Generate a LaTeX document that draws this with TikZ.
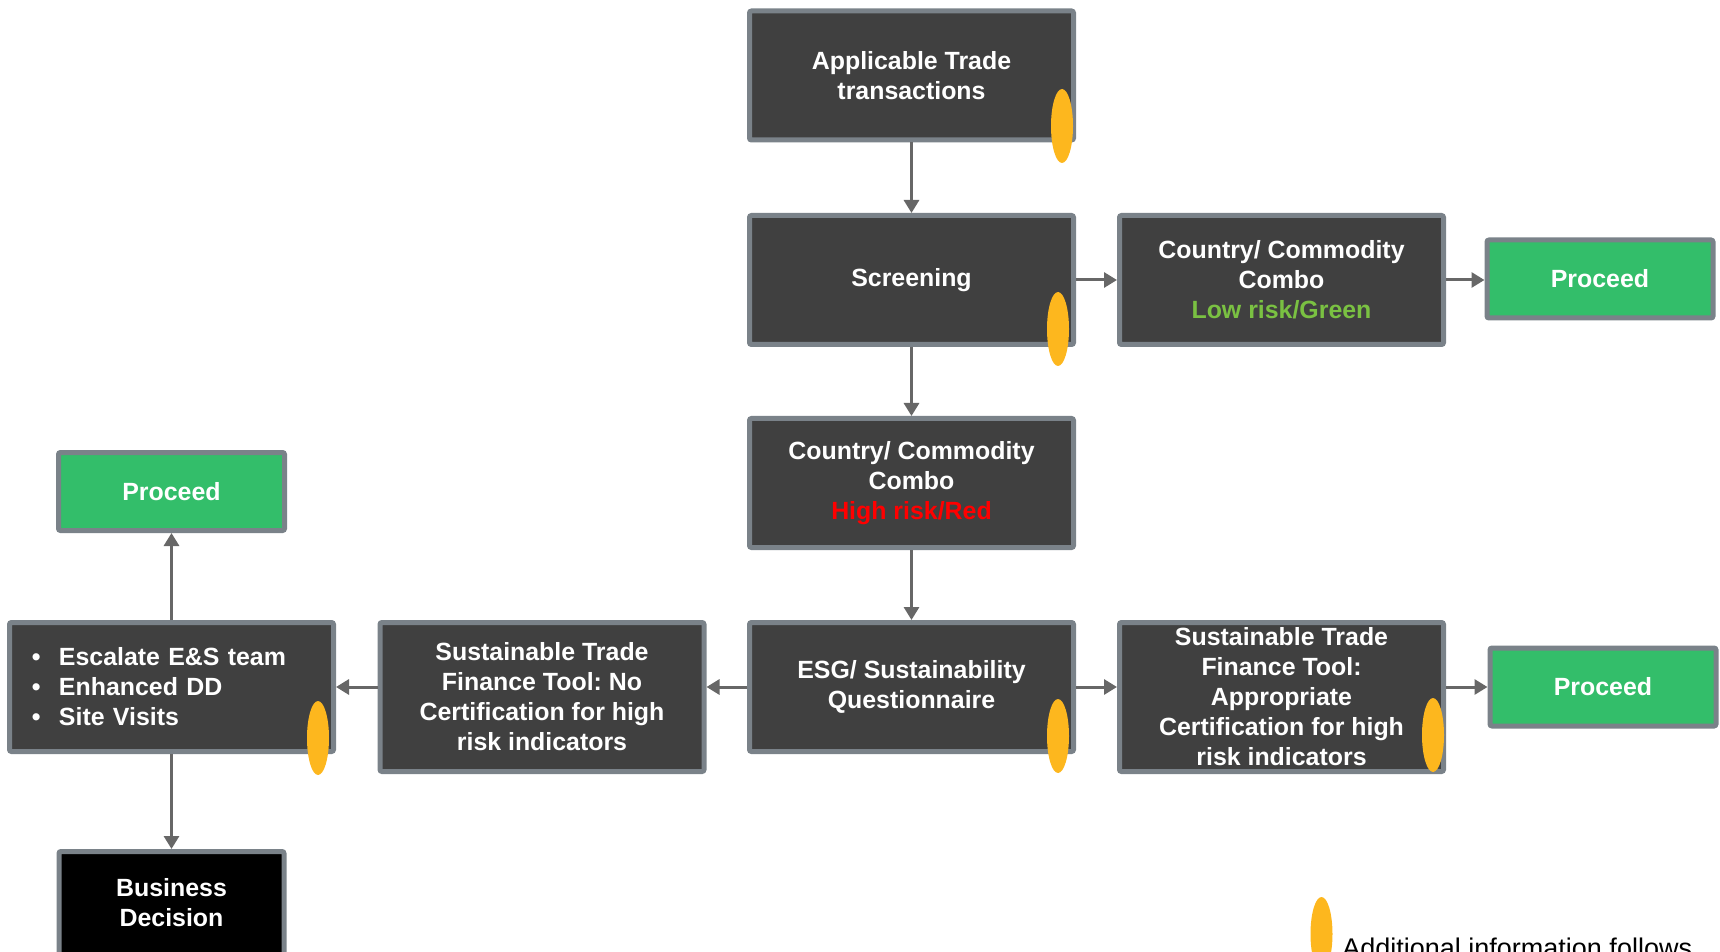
\documentclass[tikz,border=0pt]{standalone}
\usepackage{fontspec}
\setmainfont{Liberation Sans}
\frenchspacing
\usetikzlibrary{arrows.meta,shapes.geometric}
\definecolor{boxfill}{RGB}{64,64,64}
\definecolor{boxline}{RGB}{122,130,137}
\definecolor{flowgray}{RGB}{103,103,103}
\definecolor{procgreen}{RGB}{51,190,106}
\definecolor{markeryellow}{RGB}{253,183,30}
\definecolor{lowgreen}{RGB}{122,193,66}
\definecolor{highred}{RGB}{255,0,0}
\begin{document}
\begin{tikzpicture}
[
    x=0.5pt, y=-0.5pt,
    every node/.style={font=\bfseries\fontsize{12.45pt}{15pt}\selectfont, text=white, align=center},
    stage/.style={draw=boxline, line width=2.5pt, fill=boxfill, rounded corners=1pt, minimum width=162pt, minimum height=64.5pt, inner sep=0pt},
    tall/.style={stage, minimum height=74.5pt},
    proceed/.style={stage, fill=procgreen, minimum width=113pt, minimum height=39pt},
    decision/.style={stage, fill=black, minimum width=112.5pt, minimum height=51.5pt},
    marker/.style={ellipse, fill=markeryellow, minimum width=11pt, minimum height=37pt, inner sep=0pt},
    flow/.style={draw=flowgray, line width=1.5pt, -{Triangle[length=6.5pt,width=7.5pt]}},
]
\useasboundingbox (0,0) rectangle (1720,952);
\clip (0,0) rectangle (1720,952);

\node[stage] (apply) at (911.5,75.5) {Applicable Trade\\transactions};
\node[stage] (screen) at (911.5,280) {Screening};
\node[stage] (lowcombo) at (1281.5,280)
{Country/ Commodity\\Combo\\\textcolor{lowgreen}{Low risk/Green}};
\node[proceed] (goA) at (1600,279) {Proceed};
\node[stage] (highcombo) at (911.5,483)
{Country/ Commodity\\Combo\\\textcolor{highred}{High risk/Red}};
\node[stage] (esg) at (911.5,687) {ESG/ Sustainability\\Questionnaire};
\node[tall] (certyes) at (1281.5,697)
{Sustainable Trade\\Finance Tool:\\Appropriate\\Certification for high\\risk indicators};
\node[proceed] (goB) at (1603,687) {Proceed};
\node[tall] (certno) at (542,697)
{Sustainable Trade\\Finance Tool: No\\Certification for high\\risk indicators};
\node[stage, align=left, text width=139.5pt, inner xsep=11.25pt] (escalate) at (171.5,687)
{\makebox[13.5pt][l]{\textbullet}Escalate E\&S team\\
 \makebox[13.5pt][l]{\textbullet}Enhanced DD\\
 \makebox[13.5pt][l]{\textbullet}Site Visits};
\node[proceed] (goC) at (171.5,491.5) {Proceed};
\node[decision] (business) at (171.5,903) {Business\\Decision};

\node[marker] (applyM) at (1062,126) {};
\node[marker] (screenM) at (1058,329) {};
\node[marker] (esgM) at (1058,736) {};
\node[marker] (certyesM) at (1433,735) {};
\node[marker] (escalateM) at (318,738) {};
\node[marker] (keyM) at (1321.5,934) {};
\node[anchor=base west, inner sep=0pt, text=black, font=\fontsize{13.5pt}{16pt}\selectfont] (keytext) at (1342,957)
{Additional information follows};

\draw[flow] (apply) -- (screen);
\draw[flow] (screen) -- (lowcombo);
\draw[flow] (lowcombo.east) -- (lowcombo.east -| goA.west);
\draw[flow] (screen) -- (highcombo);
\draw[flow] (highcombo) -- (esg);
\draw[flow] (esg.east) -- (esg.east -| certyes.west);
\draw[flow] (certyes.east |- goB) -- (goB.west);
\draw[flow] (esg.west) -- (esg.west -| certno.east);
\draw[flow] (certno.west |- escalate) -- (escalate.east);
\draw[flow] (escalate) -- (goC);
\draw[flow] (escalate) -- (business);
\end{tikzpicture}
\end{document}
